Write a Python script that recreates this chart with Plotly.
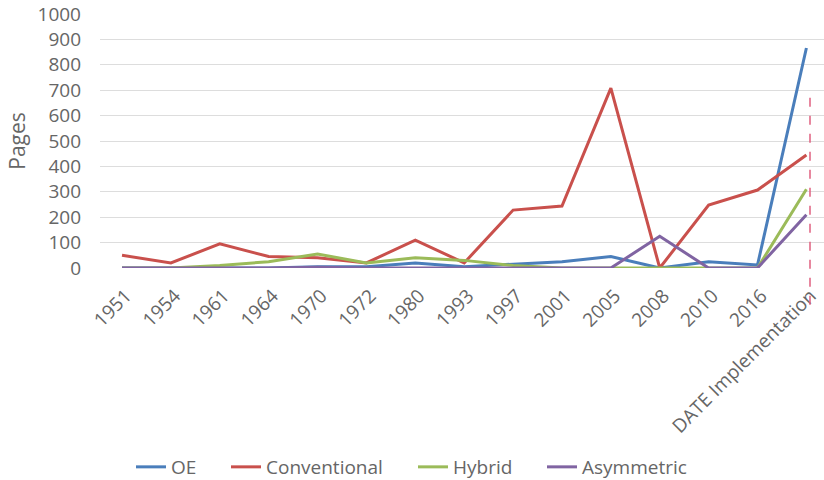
import plotly.graph_objects as go

categories = ["1951", "1954", "1961", "1964", "1970", "1972", "1980", "1993",
              "1997", "2001", "2005", "2008", "2010", "2016", "DATE Implementation"]
oe = [0, 0, 0, 0, 5, 5, 20, 5, 15, 25, 45, 0, 25, 12, 866]
conventional = [50, 20, 95, 45, 40, 20, 110, 20, 228, 244, 708, 0, 248, 307, 445]
hybrid = [0, 0, 10, 25, 55, 20, 40, 30, 10, 0, 0, 0, 0, 0, 310]
asymmetric = [0, 0, 0, 0, 3, 0, 0, 0, 0, 0, 0, 125, 0, 0, 210]

series = [("OE", oe, "#4A7EBB"), ("Conventional", conventional, "#C9504C"),
          ("Hybrid", hybrid, "#9BBB59"), ("Asymmetric", asymmetric, "#8064A2")]
legend_ids = ["legend", "legend2", "legend3", "legend4"]
legend_left_px = [131, 226, 413, 542]

gray = "#666666"
fig = go.Figure()
for (name, vals, color), lid in zip(series, legend_ids):
    fig.add_trace(go.Scatter(x=list(range(len(categories))), y=vals, name=name,
                             mode="lines", line=dict(color=color, width=3), legend=lid))

legend_common = dict(orientation="h", xref="container", yref="container",
                     xanchor="left", yanchor="middle", y=1 - 467 / 480,
                     font=dict(family="Open Sans", size=19, color=gray),
                     itemwidth=30, bgcolor="rgba(0,0,0,0)")
legend_layout = {lid: dict(legend_common, x=px / 824) for lid, px in zip(legend_ids, legend_left_px)}

fig.update_layout(
    width=824, height=480,
    margin=dict(l=100, r=0, t=14, b=212, autoexpand=False),
    plot_bgcolor="white", paper_bgcolor="white",
    font=dict(family="Open Sans", size=18, color=gray),
    showlegend=True,
    xaxis=dict(tickmode="array", tickvals=list(range(len(categories))), ticktext=categories,
               tickangle=-45, range=[-0.45, 14.36], showgrid=False, zeroline=False,
               showline=False, ticks="", ticklabelstandoff=12, ticklabelshift=4,
               tickfont=dict(family="Open Sans", size=19, color=gray)),
    yaxis=dict(range=[0, 1000], dtick=100, showgrid=True, gridcolor="#DDDDDD", gridwidth=1,
               zeroline=False, showline=False, ticks="", ticklabelstandoff=18,
               tickfont=dict(family="Open Sans", size=19, color=gray)),
    annotations=[dict(text="Pages", xref="paper", yref="paper", x=-0.115, y=0.50,
                      textangle=-90, showarrow=False, xanchor="center", yanchor="middle",
                      font=dict(family="Open Sans", size=21, color=gray))],
    shapes=[dict(type="line", xref="paper", yref="paper",
                 x0=(810 - 100) / 724, x1=(810 - 100) / 724, y0=0.67, y1=-0.165,
                 line=dict(color="#E06080", width=1.5, dash="dash"))],
    **legend_layout,
)

fig.write_html("out.html")
